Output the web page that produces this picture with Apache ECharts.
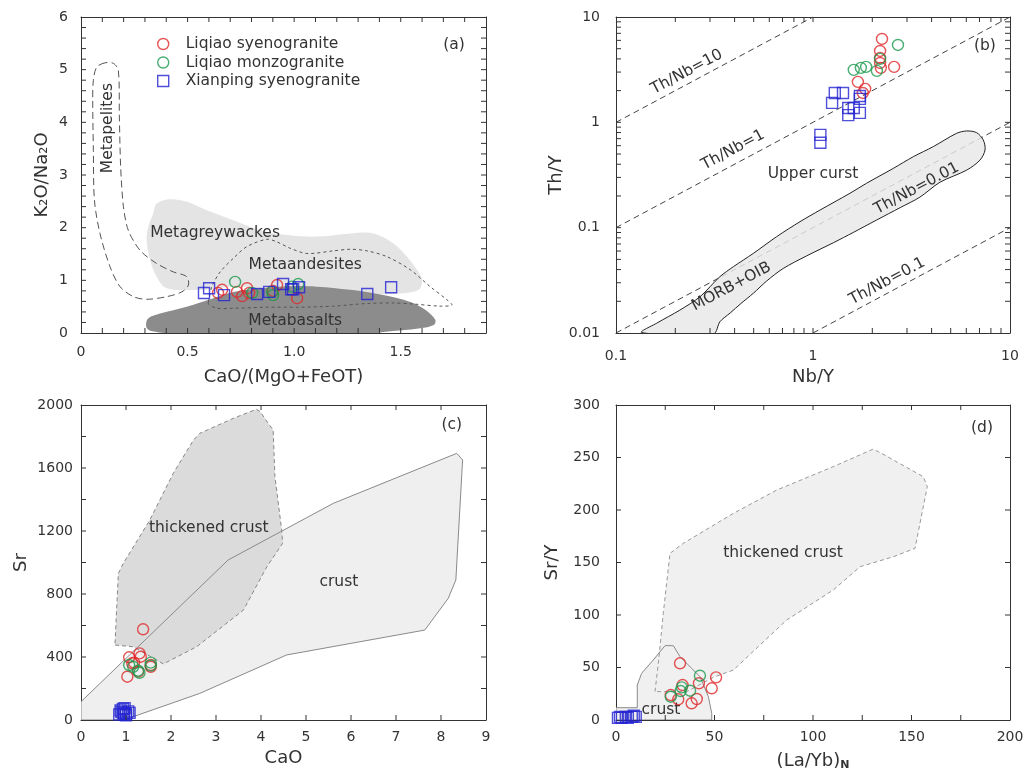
<!DOCTYPE html>
<html>
<head>
<meta charset="utf-8">
<script src="https://cdn.jsdelivr.net/npm/echarts@6/dist/echarts.min.js"></script>
<style>
  html, body { margin: 0; padding: 0; background: #fff; }
  #main { width: 1035px; height: 771px; }
</style>
</head>
<body>
<div id="main"></div>
<script>
// ---- panel (a) CaO/(MgO+FeOT) vs K2O/Na2O ----
var aSyeno = [[0.643,0.76],[0.662,0.82],[0.732,0.78],[0.756,0.70],[0.779,0.85],[0.789,0.76],[0.920,0.91],[1.014,0.66],[0.90,0.80]];
var aMonzo = [[0.723,0.97],[0.897,0.78],[0.901,0.72],[1.019,0.93],[0.803,0.76],[0.99,0.88]];
var aXian = [[0.577,0.76],[0.601,0.85],[0.671,0.72],[0.826,0.74],[0.883,0.78],[0.948,0.93],[0.986,0.83],[0.995,0.83],[1.023,0.87],[1.343,0.74],[1.455,0.87]];

var metapelites = [[0.113,5.13],[0.074,5.05],[0.058,4.80],[0.055,4.42],[0.058,3.47],[0.063,2.52],[0.089,1.89],[0.136,1.26],[0.183,0.88],[0.246,0.69],[0.308,0.64],[0.402,0.69],[0.473,0.78],[0.504,0.91],[0.496,1.07],[0.433,1.16],[0.355,1.32],[0.277,1.57],[0.222,1.95],[0.199,2.40],[0.186,3.16],[0.180,4.10],[0.175,4.99],[0.152,5.12]];
var metagreywackes = [[0.355,2.46],[0.418,2.54],[0.496,2.49],[0.590,2.33],[0.715,2.14],[0.840,1.95],[0.966,1.86],[1.107,1.83],[1.263,1.89],[1.372,1.89],[1.466,1.70],[1.529,1.45],[1.576,1.20],[1.600,1.01],[1.584,0.82],[1.498,0.75],[1.341,0.74],[1.028,0.82],[0.715,0.88],[0.559,0.82],[0.402,0.85],[0.355,1.07],[0.324,1.39],[0.308,1.76],[0.316,2.02],[0.339,2.27]];
var metabasalts = [[0.305,0.15],[0.316,0.28],[0.371,0.37],[0.496,0.50],[0.621,0.66],[0.715,0.78],[0.840,0.85],[0.981,0.89],[1.107,0.88],[1.263,0.82],[1.419,0.72],[1.545,0.59],[1.615,0.44],[1.662,0.25],[1.654,0.15],[1.592,0.09],[1.419,0.02],[1.38,0],[0.40,0],[0.355,0.02],[0.316,0.06]];
var metaandesites = [[0.598,0.59],[0.614,0.88],[0.653,1.16],[0.715,1.42],[0.778,1.64],[0.872,1.78],[0.919,1.73],[0.981,1.61],[1.060,1.51],[1.185,1.56],[1.263,1.59],[1.341,1.56],[1.435,1.45],[1.545,1.20],[1.638,0.88],[1.717,0.63],[1.740,0.53],[1.685,0.51],[1.560,0.55],[1.466,0.57],[1.341,0.56],[1.185,0.51],[1.028,0.49],[0.872,0.49],[0.715,0.47],[0.637,0.47],[0.598,0.55]];
var aLabels = [['Metapelites',0.127,3.89,90],['Metagreywackes',0.629,1.90,0],['Metaandesites',1.052,1.29,0],['Metabasalts',1.005,0.23,0],['(a)',1.75,5.46,0]];

// ---- panel (b) Nb/Y vs Th/Y (log-log) ----
var bSyeno = [[2.24,6.19],[2.19,4.76],[2.19,4.09],[2.19,3.66],[2.21,3.29],[2.58,3.36],[1.69,2.42],[1.84,2.08],[1.79,1.90]];
var bMonzo = [[2.70,5.43],[1.61,3.15],[1.75,3.29],[1.86,3.36],[2.11,3.08],[2.19,4.0]];
var bXian = [[1.29,1.90],[1.42,1.90],[1.25,1.53],[1.51,1.37],[1.61,1.37],[1.51,1.17],[1.73,1.23],[1.73,1.78],[1.73,1.67],[1.09,0.76],[1.09,0.64]];
var morbOib = [[0.135,0.0101],[0.161,0.0124],[0.211,0.0165],[0.267,0.0221],[0.337,0.0343],[0.395,0.0427],[0.498,0.057],[0.654,0.0822],[0.859,0.114],[1.086,0.147],[1.54,0.212],[1.87,0.264],[2.56,0.366],[3.23,0.472],[4.08,0.588],[5.36,0.787],[6.03,0.828],[6.77,0.798],[7.32,0.679],[7.47,0.546],[7.04,0.438],[6.03,0.352],[4.41,0.27],[3.49,0.195],[2.77,0.155],[2.10,0.118],[1.60,0.090],[1.27,0.072],[0.929,0.054],[0.706,0.041],[0.58,0.031],[0.50,0.024],[0.43,0.019],[0.38,0.0155],[0.337,0.0128],[0.312,0.0098]];
// Th/Nb ratio reference lines, each [x0,y0,x1,y1]
var ratioLines = [[0.1,1,1,10],[0.1,0.1,10,10],[0.1,0.01,10,1],[1,0.01,10,0.1]];
var bLabels = [['Th/Nb=10',0.229,3.01,28],['Th/Nb=1',0.393,0.547,28],['Upper curst',1.0,0.324,0],['Th/Nb=0.01',3.36,0.236,28],['MORB+OIB',0.385,0.0275,28],['Th/Nb=0.1',2.38,0.031,28],['(b)',7.46,5.32,0]];
var logMinorX = [0.2,0.3,0.4,0.5,0.6,0.7,0.8,0.9,2,3,4,5,6,7,8,9];
var logMinorY = [0.02,0.03,0.04,0.05,0.06,0.07,0.08,0.09,0.2,0.3,0.4,0.5,0.6,0.7,0.8,0.9,2,3,4,5,6,7,8,9];

// ---- panel (c) CaO vs Sr ----
var cSyeno = [[1.38,576],[1.07,398],[1.30,423],[1.33,402],[1.14,360],[1.18,364],[1.03,275],[1.55,349],[1.55,338],[1.27,307]];
var cMonzo = [[1.07,349],[1.16,338],[1.27,313],[1.30,300],[1.55,364],[1.55,345]];
var cXian = [[0.85,35],[0.9,50],[0.95,45],[1.0,40],[0.93,70],[0.97,75],[1.05,55],[0.88,60],[1.0,30],[1.08,45],[0.95,35]];
var cCrust = [[0,116],[3.27,1016],[5.61,1376],[8.35,1693],[8.48,1651],[8.33,889],[8.16,772],[7.64,571],[4.57,413],[2.64,169],[1.16,21],[1.0,0],[0,0]];
var cThick = [[0.756,487],[0.830,931],[0.941,995],[1.53,1270],[2.05,1566],[2.50,1778],[2.64,1820],[3.38,1915],[3.90,1973],[3.98,1958],[4.16,1884],[4.27,1841],[4.31,1545],[4.46,1206],[4.48,1122],[4.13,973],[3.61,698],[2.57,465],[1.83,356],[1.16,465],[0.756,476]];
var cLabels = [['thickened crust',2.84,1219,0],['crust',5.73,876,0],['(c)',8.24,1873,0]];

// ---- panel (d) (La/Yb)N vs Sr/Y ----
var dSyeno = [[32.5,54],[50.8,40.6],[42.1,35],[48.6,30.2],[33.8,33.3],[27.8,23.8],[31.6,19.7],[41.0,20],[38.4,15.9]];
var dMonzo = [[42.6,42.2],[37.6,27.9],[32.8,27.6],[27.8,22.2],[33.4,31.1]];
var dXian = [[1,2],[2,3],[3,2],[5,3],[6,2],[8,3],[9,4],[10,3]];
var dCrust = [[0,11.7],[10.8,11.7],[10.8,33.3],[13.0,44.4],[18.9,57.1],[24.9,70.8],[29.1,70.8],[32.5,60.3],[38.4,49.2],[42.6,41.3],[46.9,22.2],[48.6,6.3],[48.6,0],[0,0]];
var dThick = [[19.8,27.0],[21.5,54.0],[24.0,101.6],[27.4,158.7],[34.2,168.3],[59.6,196.8],[81.6,219],[110.3,241.3],[130.3,257.8],[133.2,255.6],[156.0,231.7],[158.0,222.2],[151.8,163.5],[140.8,155.5],[123.9,146],[110.3,123.8],[86.6,95.2],[59.6,47.6],[49.4,40.6],[35.9,27.0]];
var dLabels = [['thickened crust',84.8,159,0],['crust',22.8,9.5,0],['(d)',185.8,278,0]];

var FONT = '"DejaVu Sans", "Liberation Sans", Arial, sans-serif';
var RED = '#e0282a', GREEN = '#1c9a4e', BLUE = '#2323d2';
var NAMES = ['Liqiao syenogranite', 'Liqiao monzogranite', 'Xianping syenogranite'];
var AXC = '#333';

function polySeries(idx, pts, style, z, smooth) {
    return {
        type: 'custom', xAxisIndex: idx, yAxisIndex: idx, z: z, clip: true, silent: true,
        data: [pts[0]],
        renderItem: function (params, api) {
            var p = pts.map(function (d) { return api.coord(d); });
            return { type: 'polygon', shape: { points: p, smooth: smooth || 0 }, style: style };
        }
    };
}

function textSeries(idx, labels) {
    return {
        type: 'custom', xAxisIndex: idx, yAxisIndex: idx, z: 4, silent: true,
        data: labels.map(function (l) { return [l[1], l[2]]; }),
        renderItem: function (params, api) {
            var l = labels[params.dataIndex];
            var c = api.coord([l[1], l[2]]);
            return {
                type: 'text', x: c[0], y: c[1], rotation: l[3] * Math.PI / 180,
                style: { text: l[0], fill: '#333', fontSize: 15.5, fontFamily: FONT, align: 'center', verticalAlign: 'middle' }
            };
        }
    };
}

function pointSeries(idx, data, k) {
    var col = [RED, GREEN, BLUE][k];
    return {
        name: NAMES[k], type: 'scatter', xAxisIndex: idx, yAxisIndex: idx, z: 6,
        symbol: k == 2 ? 'rect' : 'circle', symbolSize: 11,
        itemStyle: { color: 'rgba(0,0,0,0)', borderColor: col, borderWidth: 1.4 },
        data: data
    };
}

// frame ticks: drawn as a custom series for every panel side, value list per axis
function tickSeries(idx, xt, yt, xr, yr, len) {
    var items = [];
    xt.forEach(function (v) { items.push(['x', v]); });
    yt.forEach(function (v) { items.push(['y', v]); });
    return { type: 'custom', xAxisIndex: idx, yAxisIndex: idx, z: 7, silent: true, clip: false,
        data: items.map(function (it) { return it[0] == 'x' ? [it[1], yr[0]] : [xr[0], it[1]]; }),
        renderItem: function (params, api) {
            var it = items[params.dataIndex], st = { stroke: AXC, lineWidth: 1 };
            var a, b;
            if (it[0] == 'x') {
                a = api.coord([it[1], yr[0]]); b = api.coord([it[1], yr[1]]);
                return { type: 'group', children: [
                    { type: 'line', shape: { x1: a[0], y1: a[1], x2: a[0], y2: a[1] - len }, style: st },
                    { type: 'line', shape: { x1: b[0], y1: b[1], x2: b[0], y2: b[1] + len }, style: st }] };
            }
            a = api.coord([xr[0], it[1]]); b = api.coord([xr[1], it[1]]);
            return { type: 'group', children: [
                { type: 'line', shape: { x1: a[0], y1: a[1], x2: a[0] + len, y2: a[1] }, style: st },
                { type: 'line', shape: { x1: b[0], y1: b[1], x2: b[0] - len, y2: b[1] }, style: st }] };
        } };
}

function xAx(grid, opt, mirror) {
    var o = {
        gridIndex: grid, type: 'value', position: mirror ? 'top' : 'bottom',
        axisLine: { show: true, onZero: false, lineStyle: { color: AXC, width: 1 } },
        axisTick: { show: false },
        minorTick: { show: false },
        splitLine: { show: false },
        nameLocation: 'middle', nameTextStyle: { color: '#333', fontSize: 18, fontFamily: FONT }
    };
    for (var k in opt) o[k] = opt[k];
    if (mirror) { o.name = ''; o.axisLabel = { show: false }; }
    return o;
}
function yAx(grid, opt, mirror) {
    var o = xAx(grid, opt, mirror);
    o.position = mirror ? 'right' : 'left';
    return o;
}
function lab(margin, fmt) {
    var l = { color: '#333', fontSize: 14, fontFamily: FONT, margin: margin,
        formatter: fmt || function (v) { return String(v); } };
    return l;
}

var logFmt = function (v) { return String(+Number(v).toPrecision(3)); };

// panel a
var xa = { min: 0, max: 1.9, interval: 0.5, name: 'CaO/(MgO+FeOT)', nameGap: 35,
    axisLabel: lab(12, function (v) { return v === 0 ? '0' : (v > 1.8 ? '' : v.toFixed(1)); }) };
var ya = { min: 0, max: 6, interval: 1, name: 'K₂O/Na₂O', nameGap: 30, axisLabel: lab(13) };
// panel b
var xb = { type: 'log', logBase: 10, min: 0.1, max: 10, name: 'Nb/Y', nameGap: 35, axisLabel: lab(16, logFmt) };
var yb = { type: 'log', logBase: 10, min: 0.01, max: 10, name: 'Th/Y', nameGap: 42, axisLabel: lab(16, logFmt) };
// panel c
var xc = { min: 0, max: 9, interval: 1, name: 'CaO', nameGap: 29, axisLabel: lab(10) };
var yc = { min: 0, max: 2000, interval: 400, name: 'Sr', nameGap: 51, axisLabel: lab(8) };
// panel d
var xd = { min: 0, max: 200, interval: 50, name: '(La/Yb){s|N}', nameGap: 31,
    nameTextStyle: { color: '#333', fontSize: 18, fontFamily: FONT, rich: { s: { fontSize: 11, fontWeight: 'bold', verticalAlign: 'bottom', color: '#333', fontFamily: FONT, padding: [9, 0, 0, 0] } } },
    axisLabel: lab(10) };
var yd = { min: 0, max: 300, interval: 50, name: 'Sr/Y', nameGap: 55, axisLabel: lab(16) };

var xs = [xa, xb, xc, xd], ys = [ya, yb, yc, yd];
var xAxes = [], yAxes = [];
for (var i = 0; i < 4; i++) {
    xAxes.push(xAx(i, xs[i], false));
    xAxes.push(xAx(i, xs[i], true));
    yAxes.push(yAx(i, ys[i], false));
    yAxes.push(yAx(i, ys[i], true));
}
// series use bottom/left axes -> even indexes
var A = 0, B = 2, C = 4, D = 6;

var series = [];
// (a) fields
series.push(polySeries(A, metagreywackes, { fill: '#e4e4e4' }, 1, 0.35));
series.push(polySeries(A, metabasalts, { fill: '#8c8c8c' }, 1, 0.35));
series.push(polySeries(A, metapelites, { fill: 'none', stroke: '#555', lineWidth: 1, lineDash: [7, 4] }, 2, 0.3));
series.push(polySeries(A, metaandesites, { fill: 'none', stroke: '#555', lineWidth: 1, lineDash: [3, 3] }, 2, 0.3));
series.push(textSeries(A, aLabels));
// (b) ratio lines and field
for (var j = 0; j < ratioLines.length; j++) {
    var r = ratioLines[j];
    series.push({ type: 'line', xAxisIndex: B, yAxisIndex: B, z: 1, symbol: 'none', silent: true,
        lineStyle: { color: '#444', width: 1, type: [6, 4] }, data: [[r[0], r[1]], [r[2], r[3]]] });
}
series.push(polySeries(B, morbOib, { fill: 'rgba(232,232,232,0.82)', stroke: '#222', lineWidth: 1 }, 3, 0.3));
series.push(textSeries(B, bLabels));
// (c) fields
series.push(polySeries(C, cCrust, { fill: '#efefef' }, 1));
series.push(polySeries(C, cThick, { fill: '#dbdbdb', stroke: '#888', lineWidth: 1, lineDash: [4, 3] }, 2));
series.push(polySeries(C, cCrust, { fill: 'none', stroke: '#8a8a8a', lineWidth: 1 }, 3));
series.push(textSeries(C, cLabels));
// (d) fields
series.push(polySeries(D, dCrust, { fill: '#f0f0f0' }, 1));
series.push(polySeries(D, dThick, { fill: '#f0f0f0', stroke: '#999', lineWidth: 1, lineDash: [4, 3] }, 2));
series.push(polySeries(D, dCrust, { fill: 'none', stroke: '#8a8a8a', lineWidth: 1 }, 3));
series.push(textSeries(D, dLabels));

// frame ticks (major + minor) on all four sides
var aTx = [], aTy = [], cTy = [], dTx = [];
for (var t = 1; t < 19; t++) aTx.push(t / 10);
for (t = 1; t < 30; t++) aTy.push(t / 5);
for (t = 1; t < 10; t++) cTy.push(t * 200);
for (t = 1; t < 8; t++) dTx.push(t * 25);
series.push(tickSeries(A, aTx, aTy, [0, 1.9], [0, 6], 5));
series.push(tickSeries(B, logMinorX.concat([1]), logMinorY.concat([0.1, 1]), [0.1, 10], [0.01, 10], 5));
series.push(tickSeries(C, [1, 2, 3, 4, 5, 6, 7, 8], cTy, [0, 9], [0, 2000], 5));
series.push(tickSeries(D, dTx, [50, 100, 150, 200, 250], [0, 200], [0, 300], 5));

// samples
var sets = [[aSyeno, aMonzo, aXian], [bSyeno, bMonzo, bXian], [cSyeno, cMonzo, cXian], [dSyeno, dMonzo, dXian]];
for (var p = 0; p < 4; p++) {
    for (var k = 0; k < 3; k++) series.push(pointSeries(p * 2, sets[p][k], k));
}

var grids = [[81, 17, 405, 316], [616, 17, 394, 316], [81, 405, 405, 315], [616, 405, 394, 315]].map(function (g) {
    return { left: g[0], top: g[1], width: g[2], height: g[3], containLabel: false, outerBoundsMode: 'none' };
});

var option = {
    backgroundColor: '#fff',
    animation: false,
    textStyle: { fontFamily: FONT },
    grid: grids,
    legend: {
        orient: 'vertical', left: 152, top: 31, itemWidth: 11, itemHeight: 11, itemGap: 2.5,
        selectedMode: false,
        textStyle: { color: '#333', fontSize: 15.5, fontFamily: FONT, lineHeight: 16, padding: [0, 0, 0, 12] },
        data: [
            { name: NAMES[0], icon: 'circle', itemStyle: { color: 'rgba(0,0,0,0)', borderColor: RED, borderWidth: 1.4 } },
            { name: NAMES[1], icon: 'circle', itemStyle: { color: 'rgba(0,0,0,0)', borderColor: GREEN, borderWidth: 1.4 } },
            { name: NAMES[2], icon: 'rect', itemStyle: { color: 'rgba(0,0,0,0)', borderColor: BLUE, borderWidth: 1.4 } }
        ]
    },
    xAxis: xAxes,
    yAxis: yAxes,
    series: series
};

var chart = echarts.init(document.getElementById('main'));
chart.setOption(option);
</script>
</body>
</html>
